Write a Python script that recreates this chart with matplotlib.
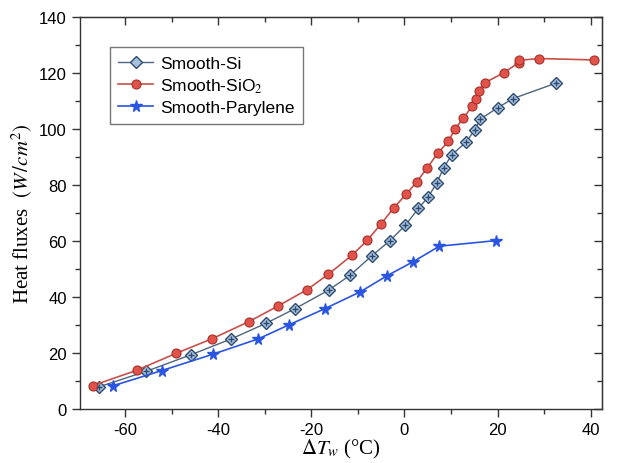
import matplotlib
matplotlib.use("Agg")
import matplotlib.pyplot as plt
from matplotlib.ticker import MultipleLocator

# Data
si_x = [-65.6, -55.5, -45.9, -37.2, -29.7, -23.5, -16.3, -11.7, -7.0, -3.1, 0.2, 3.0, 5.1, 6.9,
        8.4, 10.1, 13.3, 15.1, 16.3, 20.1, 23.3, 32.5]
si_y = [8.0, 13.5, 19.4, 25.1, 30.7, 35.9, 42.5, 47.8, 54.8, 60.2, 65.7, 71.7, 75.8, 80.7,
        86.1, 90.7, 95.5, 99.8, 103.6, 107.7, 110.9, 116.4]

sio2_x = [-67.0, -57.5, -49.1, -41.4, -33.5, -27.2, -20.9, -16.4, -11.2, -8.0, -5.0, -2.3, 0.4,
          2.6, 4.9, 7.1, 9.4, 10.9, 12.6, 14.5, 15.4, 15.9, 17.2, 21.3, 24.5, 24.7, 29.0, 40.8]
sio2_y = [8.4, 13.9, 19.9, 25.1, 31.2, 36.8, 42.7, 48.1, 55.1, 60.3, 66.2, 71.9, 76.8,
          81.1, 86.2, 91.3, 95.6, 100.2, 103.8, 108.1, 110.6, 113.7, 116.5, 120.1, 123.7, 124.6, 125.2, 124.7]

par_x = [-62.7, -52.1, -41.2, -31.4, -24.7, -17.1, -9.5, -3.8, 1.8, 7.5, 19.7]
par_y = [8.3, 13.8, 19.6, 25.1, 30.2, 35.9, 41.9, 47.6, 52.6, 58.2, 60.2]

labels = ["Smooth-Si", "Smooth-SiO$_2$", "Smooth-Parylene"]

plt.rcParams['font.family'] = ['Liberation Sans', 'DejaVu Sans']
plt.rcParams['mathtext.fontset'] = 'stix'
plt.rcParams['axes.unicode_minus'] = False

fig = plt.figure(figsize=(6.25, 4.64), dpi=100)
ax = fig.add_axes([0.128, 0.116, 0.835, 0.845])

ax.plot(si_x, si_y, '-', color='#4d6580', lw=1.0, marker='D', ms=6,
        mfc='#a8c0dc', mec='#2c4a6e', mew=1.0, label=labels[0], zorder=3)
ax.plot(si_x, si_y, 'none', marker='+', ms=5, mec='#2c4a6e', mew=1.0, zorder=4)

ax.plot(sio2_x, sio2_y, '-', color='#c8504a', lw=1.2, marker='o', ms=6.5,
        mfc='#e0524a', mec='#a83028', mew=0.8, label=labels[1], zorder=3)

ax.plot(par_x, par_y, '-', color='#2a55e0', lw=1.2, marker='*', ms=8.5,
        mfc='#2a55e0', mec='#2a55e0', label=labels[2], zorder=3)

ax.set_xlim(-69.7, 42.4)
ax.set_ylim(0, 140)
ax.xaxis.set_major_locator(MultipleLocator(20))
ax.xaxis.set_minor_locator(MultipleLocator(10))
ax.yaxis.set_major_locator(MultipleLocator(20))
ax.yaxis.set_minor_locator(MultipleLocator(10))

ax.tick_params(which='both', direction='out', labelsize=12, color='#333333')
ax.tick_params(which='major', length=6, width=1)
ax.tick_params(which='minor', length=3.5, width=1)

# inward ticks on top/right
ax2 = ax.secondary_xaxis('top')
ax2.xaxis.set_major_locator(MultipleLocator(20))
ax2.xaxis.set_minor_locator(MultipleLocator(10))
ax2.tick_params(which='both', direction='in', labeltop=False, color='#333333')
ax2.tick_params(which='major', length=6, width=1)
ax2.tick_params(which='minor', length=3.5, width=1)
ax3 = ax.secondary_yaxis('right')
ax3.yaxis.set_major_locator(MultipleLocator(20))
ax3.yaxis.set_minor_locator(MultipleLocator(10))
ax3.tick_params(which='both', direction='in', labelright=False, color='#333333')
ax3.tick_params(which='major', length=6, width=1)
ax3.tick_params(which='minor', length=3.5, width=1)

for s in ax.spines.values():
    s.set_color('#333333')
    s.set_linewidth(1.0)

ax.set_ylabel('Heat fluxes  $(W\\,/cm^2)$', family='Liberation Serif', fontsize=15, labelpad=3)
ax.set_xlabel('$\\Delta T_w$ (°C)', family='Liberation Serif', fontsize=15, labelpad=0)

leg = ax.legend(loc='upper left', bbox_to_anchor=(0.04, 0.945), fontsize=12.5,
                frameon=True, fancybox=False, edgecolor='#555555', handlelength=2.0,
                borderpad=0.5, labelspacing=0.3, handletextpad=0.4)
leg.get_frame().set_linewidth(1.0)

fig.savefig('out.png', dpi=100)
